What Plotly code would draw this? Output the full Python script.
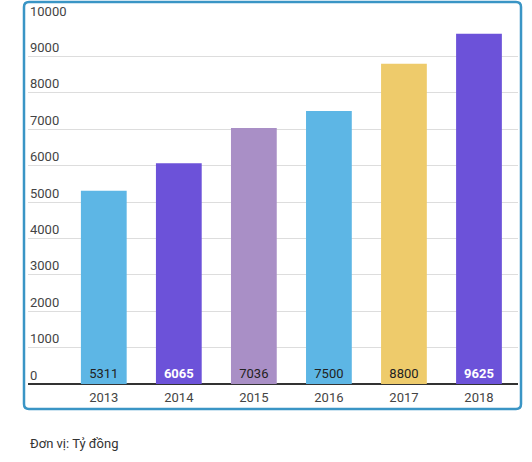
import plotly.graph_objects as go

years = ['2013', '2014', '2015', '2016', '2017', '2018']
revenue = [5311, 6065, 7036, 7500, 8800, 9625]
bar_colors = ['#5DB6E5', '#6C52D9', '#A98FC6', '#5DB6E5', '#EECB6B', '#6C52D9']
label_colors = ['#222222', '#FFFFFF', '#222222', '#222222', '#222222', '#FFFFFF']
label_weights = [400, 700, 400, 400, 400, 700]
y_ticks = [0, 1000, 2000, 3000, 4000, 5000, 6000, 7000, 8000, 9000, 10000]
unit_note = 'Đơn vị: Tỷ đồng'

W, H = 532, 462
ml, mr, mt, mb = 28, 14, 20, 78

fig = go.Figure(go.Bar(
    x=years, y=revenue,
    marker=dict(color=bar_colors, line=dict(width=0)),
    width=0.61,
    text=[str(v) for v in revenue],
    textposition='inside', insidetextanchor='start',
    textangle=0,
    textfont=dict(family='Roboto', size=13, color=label_colors, weight=label_weights),
    cliponaxis=False,
))

# rounded frame around the chart, in pixel terms converted to paper coords
def px_x(p):
    return (p - ml) / (W - ml - mr)

def px_y(p):
    return (H - mb - p) / (H - mt - mb)

x0, x1, y0, y1, r = 24, 521, 2, 409, 5
path = (f'M {px_x(x0 + r)} {px_y(y0)} L {px_x(x1 - r)} {px_y(y0)} '
        f'Q {px_x(x1)} {px_y(y0)} {px_x(x1)} {px_y(y0 + r)} '
        f'L {px_x(x1)} {px_y(y1 - r)} Q {px_x(x1)} {px_y(y1)} {px_x(x1 - r)} {px_y(y1)} '
        f'L {px_x(x0 + r)} {px_y(y1)} Q {px_x(x0)} {px_y(y1)} {px_x(x0)} {px_y(y1 - r)} '
        f'L {px_x(x0)} {px_y(y0 + r)} Q {px_x(x0)} {px_y(y0)} {px_x(x0 + r)} {px_y(y0)} Z')

# y tick labels sit just above their gridlines, left aligned inside the plot
tick_notes = [dict(text=str(v), xref='paper', yref='y', x=0, y=v, yshift=9,
                   xanchor='left', yanchor='middle', showarrow=False,
                   font=dict(family='Roboto', size=13, color='#444444'))
              for v in y_ticks]

fig.update_layout(
    width=W, height=H,
    margin=dict(l=ml, r=mr, t=mt, b=mb, autoexpand=False),
    paper_bgcolor='white', plot_bgcolor='white',
    font=dict(family='Roboto', size=13, color='#444444'),
    showlegend=False,
    shapes=[dict(type='path', path=path, xref='paper', yref='paper',
                 line=dict(color='#3A95C5', width=2.5), fillcolor='rgba(0,0,0,0)', layer='above')],
    annotations=tick_notes + [dict(text=unit_note, xref='paper', yref='paper', x=px_x(28), y=px_y(443),
                                   xanchor='left', yanchor='middle', showarrow=False,
                                   font=dict(family='Roboto', size=13, color='#333333'))],
)
fig.update_xaxes(range=[-1.01, 5.52], showgrid=False, ticks='', showline=False, automargin=False,
                 ticklabelstandoff=4, tickfont=dict(size=13, color='#444444'))
fig.update_yaxes(range=[0, 10000], tickvals=y_ticks, showticklabels=False, automargin=False,
                 gridcolor='#DDDDDD', gridwidth=1,
                 zeroline=True, zerolinecolor='#333333', zerolinewidth=2,
                 showline=False)

fig.write_html('out.html', config={'displayModeBar': False},
               post_script="document.body.style.margin='0';")
